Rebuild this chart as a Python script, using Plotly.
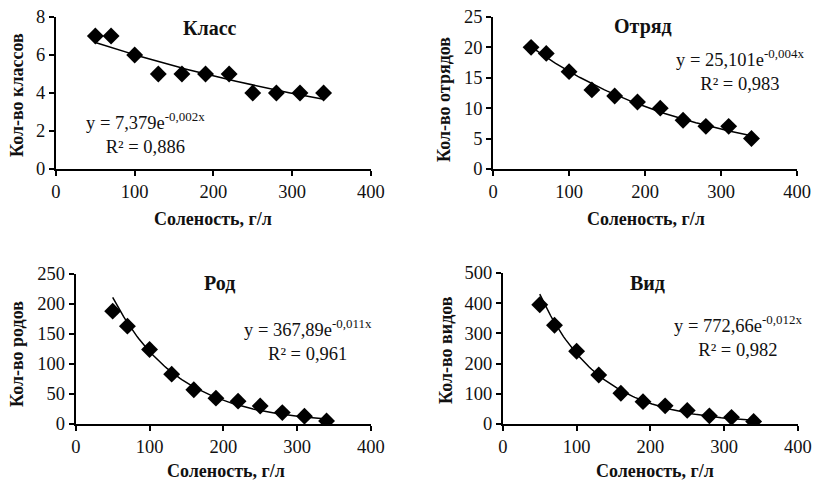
import numpy as np
import plotly.graph_objects as go

salinity = [50, 70, 100, 130, 160, 190, 220, 250, 280, 310, 340]
klass = [7, 7, 6, 5, 5, 5, 5, 4, 4, 4, 4]
otryad = [20, 19, 16, 13, 12, 11, 10, 8, 7, 7, 5]
rod = [188, 163, 124, 83, 57, 43, 38, 30, 19, 13, 5]
vid = [395, 327, 241, 162, 102, 74, 60, 45, 27, 22, 8]

titles = ["Класс", "Отряд", "Род", "Вид"]
ytitles = ["Кол-во классов", "Кол-во отрядов", "Кол-во родов", "Кол-во видов"]
xtitle = "Соленость, г/л"
equations = ["y = 7,379e<sup>-0,002x</sup><br>R² = 0,886",
             "y = 25,101e<sup>-0,004x</sup><br>R² = 0,983",
             "y = 367,89e<sup>-0,011x</sup><br>R² = 0,961",
             "y = 772,66e<sup>-0,012x</sup><br>R² = 0,982"]
yranges = [[0, 8], [0, 25], [0, 250], [0, 500]]
ydticks = [2, 5, 50, 100]

series = [klass, otryad, rod, vid]

FONT = "Liberation Serif"

domains = [
    ([0.0687, 0.455], [0.651, 0.965]),
    ([0.605, 0.978], [0.651, 0.965]),
    ([0.093, 0.455], [0.124, 0.434]),
    ([0.617, 0.979], [0.124, 0.436]),
]
eq_pos = [(145, 133), (740, 70), (308, 340), (738, 336)]
xtitle_pos = [(213, 219), (646, 219), (226, 471), (655, 471)]
ytitle_pos = [(17, 95), (444, 99), (17, 354), (446, 350)]
title_pos = [(210, 28), (643, 27), (219, 283), (647, 283)]

fig = go.Figure()
xs = np.array(salinity, dtype=float)
xfit = np.linspace(min(salinity), max(salinity), 100)


def px(x, y):
    return x / 815, 1 - y / 484


for i, ys in enumerate(series):
    sfx = "" if i == 0 else str(i + 1)
    b, lna = np.polyfit(xs, np.log(np.array(ys, dtype=float)), 1)
    yfit = np.exp(lna) * np.exp(b * xfit)
    fig.add_trace(go.Scatter(x=xfit, y=yfit, mode="lines",
                             line=dict(color="black", width=1.5),
                             xaxis="x" + sfx, yaxis="y" + sfx, showlegend=False))
    fig.add_trace(go.Scatter(x=salinity, y=ys, mode="markers",
                             marker=dict(symbol="diamond", size=13, color="black"),
                             xaxis="x" + sfx, yaxis="y" + sfx, showlegend=False))
    xd, yd = domains[i]
    axcommon = dict(showgrid=False, zeroline=False, showline=True, linecolor="black",
                    linewidth=2, ticks="outside", ticklen=5, tickwidth=1.5, tickcolor="black",
                    automargin=False,
                    tickfont=dict(family=FONT, size=18.5, color="#111"))
    fig.update_layout(**{
        "xaxis" + sfx: dict(domain=xd, anchor="y" + sfx, range=[0, 400], dtick=100,
                            **axcommon),
        "yaxis" + sfx: dict(domain=yd, anchor="x" + sfx, range=yranges[i], dtick=ydticks[i],
                            **axcommon),
    })
    ax, ay = px(*xtitle_pos[i])
    fig.add_annotation(text="<b>" + xtitle + "</b>", xref="paper", yref="paper",
                       x=ax, y=ay, showarrow=False, xanchor="center", yanchor="middle",
                       font=dict(family=FONT, size=18, color="#111"))
    ax, ay = px(*ytitle_pos[i])
    fig.add_annotation(text="<b>" + ytitles[i] + "</b>", xref="paper", yref="paper",
                       x=ax, y=ay, showarrow=False, textangle=-90,
                       xanchor="center", yanchor="middle",
                       font=dict(family=FONT, size=18, color="#111"))
    ax, ay = px(*title_pos[i])
    fig.add_annotation(text="<b>" + titles[i] + "</b>", xref="paper", yref="paper",
                       x=ax, y=ay, showarrow=False, xanchor="center", yanchor="middle",
                       font=dict(family=FONT, size=20, color="#111"))
    ax, ay = px(*eq_pos[i])
    fig.add_annotation(text=equations[i], xref="paper", yref="paper",
                       x=ax, y=ay, showarrow=False,
                       xanchor="center", yanchor="middle", align="center",
                       font=dict(family=FONT, size=18.5, color="#111"))

fig.update_layout(width=815, height=484, margin=dict(l=0, r=0, t=0, b=0),
                  paper_bgcolor="white", plot_bgcolor="white")
fig.write_html("out.html", config={"displayModeBar": False},
               post_script="document.body.style.margin='0';document.body.style.overflow='hidden';")
